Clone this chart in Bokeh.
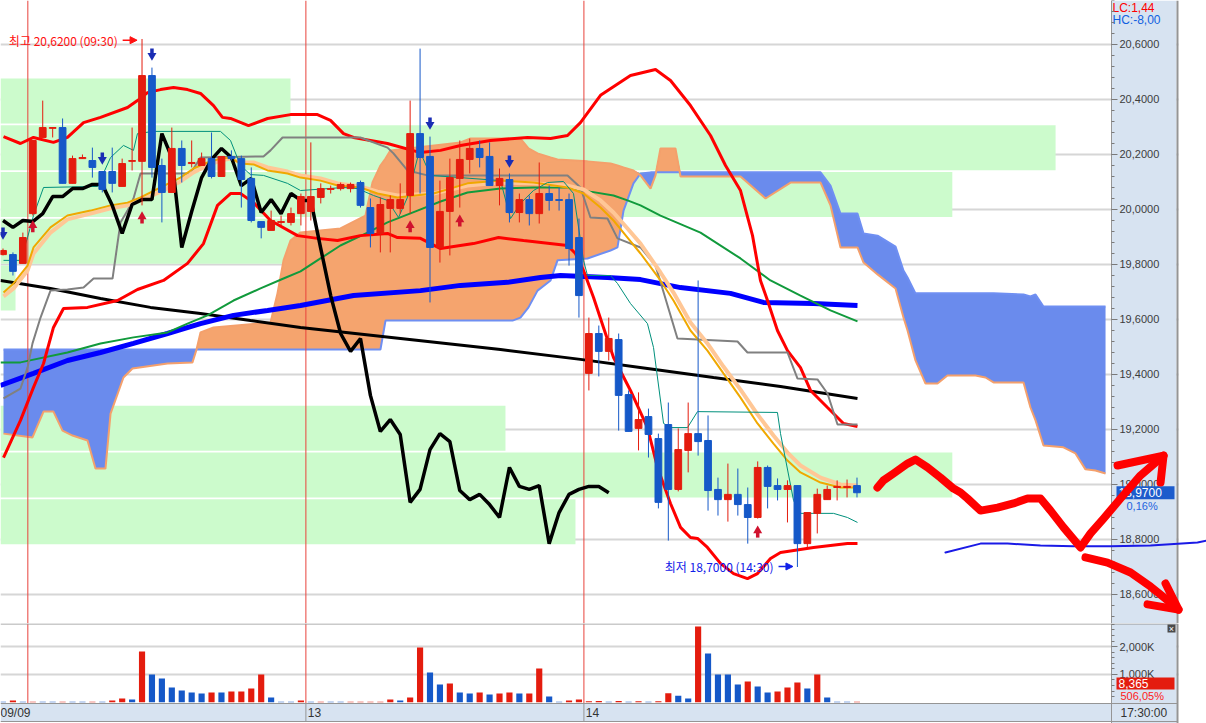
import numpy as np
from bokeh.plotting import figure
from bokeh.layouts import column
from bokeh.models import Range1d, FixedTicker, CustomJSTickFormatter, Arrow, NormalHead
from bokeh.core.properties import value
from bokeh.embed import file_html
from bokeh.resources import INLINE

# ---------------- 30-minute bars (index 0 = first bar of 09/09, 28 bars per session) ----------------
bar_idx = list(range(-3, 84))
open_ = [19.836, 19.836, 19.804, 19.985, 20.262, 20.295, 20.298, 20.095, 20.185, 20.178,
         20.138, 20.138, 20.084, 20.175, 20.175, 20.487, 20.160, 20.062, 20.222, 20.167,
         20.160, 20.185, 20.120, 20.193, 20.185, 20.113, 19.956, 19.924, 19.953, 19.953,
         19.985, 19.993, 20.044, 20.073, 20.076, 20.076, 20.098, 20.007, 19.913, 20.004,
         20.004, 20.051, 20.276, 20.193, 19.862, 19.993, 20.113, 20.182, 20.222, 20.193,
         20.087, 20.109, 19.989, 20.036, 19.985, 20.058, 20.036, 20.036, 19.898, 19.404,
         19.549, 19.484, 19.527, 19.327, 19.204, 19.247, 19.167, 19.218, 18.982, 19.124,
         19.185, 19.160, 18.982, 18.945, 18.964, 18.927, 18.880, 19.062, 18.996, 18.982,
         18.996, 18.785, 18.895, 18.945, 18.989, 18.989, 18.996]
high = [19.858, 19.844, 19.916, 20.251, 20.396, 20.298, 20.331, 20.196, 20.200, 20.225,
        20.138, 20.225, 20.185, 20.298, 20.620, 20.516, 20.185, 20.298, 20.251, 20.251,
        20.207, 20.280, 20.193, 20.215, 20.196, 20.153, 19.956, 19.996, 19.978, 20.007,
        20.058, 20.244, 20.095, 20.087, 20.098, 20.098, 20.105, 20.040, 20.044, 20.051,
        20.095, 20.396, 20.585, 20.265, 20.105, 20.185, 20.251, 20.258, 20.251, 20.244,
        20.149, 20.131, 20.058, 20.051, 20.171, 20.087, 20.080, 20.058, 19.967, 19.607,
        19.578, 19.607, 19.549, 19.342, 19.335, 19.276, 19.185, 19.298, 19.204, 19.298,
        19.742, 19.251, 19.025, 19.076, 19.058, 18.989, 19.084, 19.069, 19.022, 19.015,
        18.996, 18.898, 18.985, 18.996, 19.015, 19.018, 19.025]
low = [19.833, 19.760, 19.804, 19.978, 20.262, 20.262, 20.095, 20.095, 20.185, 20.116,
       20.062, 20.062, 20.084, 20.142, 20.015, 20.116, 19.953, 20.062, 20.098, 20.153,
       20.160, 20.113, 20.120, 20.178, 20.007, 19.953, 19.895, 19.924, 19.942, 19.942,
       19.942, 19.960, 20.022, 20.058, 20.069, 20.062, 20.007, 19.862, 19.844, 19.844,
       19.985, 19.985, 20.058, 19.662, 19.807, 19.833, 20.007, 20.131, 20.153, 20.087,
       20.015, 19.953, 19.953, 19.942, 19.949, 19.996, 19.996, 19.796, 19.607, 19.342,
       19.393, 19.451, 19.196, 19.193, 19.124, 19.098, 18.913, 18.796, 18.975, 19.044,
       19.105, 18.905, 18.887, 18.865, 18.887, 18.785, 18.876, 18.913, 18.942, 18.862,
       18.700, 18.771, 18.822, 18.945, 18.942, 18.953, 18.953]
close = [19.851, 19.775, 19.898, 20.251, 20.298, 20.298, 20.095, 20.185, 20.189, 20.153,
         20.073, 20.095, 20.167, 20.178, 20.487, 20.153, 20.062, 20.222, 20.160, 20.171,
         20.185, 20.120, 20.193, 20.185, 20.109, 19.960, 19.935, 19.960, 19.956, 19.985,
         20.047, 20.047, 20.076, 20.076, 20.091, 20.091, 20.015, 19.913, 20.018, 20.036,
         20.036, 20.276, 20.189, 19.862, 19.993, 20.116, 20.182, 20.222, 20.189, 20.087,
         20.113, 19.989, 20.036, 19.985, 20.058, 20.033, 20.033, 19.858, 19.687, 19.549,
         19.484, 19.531, 19.324, 19.193, 19.236, 19.182, 18.935, 18.982, 19.127, 19.185,
         19.156, 18.978, 18.945, 18.964, 18.927, 18.880, 19.062, 18.993, 18.982, 18.996,
         18.785, 18.898, 18.964, 18.982, 18.993, 18.993, 18.970]
volume_k = [20, 60, 20, 20, 20, 20, 20, 20, 20, 20,
            20, 60, 130, 100, 1824, 996, 852, 528, 420, 348,
            312, 348, 348, 384, 384, 492, 996, 168, 20, 20,
            60, 20, 20, 20, 20, 20, 20, 20, 20, 100,
            60, 168, 1968, 1068, 636, 672, 348, 312, 348, 276,
            312, 348, 312, 312, 1212, 204, 20, 60, 100, 30,
            40, 20, 40, 20, 30, 20, 30, 324, 228, 132,
            2724, 1752, 996, 996, 636, 744, 564, 348, 384, 528,
            708, 492, 996, 168, 20, 20, 20]
volume_side = ("b r b r b b r b b r  b r r b r b b b b b  b r b r r r r b b b  "
               "r b r b b r r r r r  b r r b b r b b r b  r r b r r b b r r r  "
               "r b r b r b r r b b  r b b b b r b b r r  r b r b b b r").split()
last_volume = "8,365"
volume_ratio = "506,05%"
price_change = "0,16%"
lc_hc = ["LC:1,44", "HC:-8,00"]
close_time = "17:30:00"

# ---------------- indicator lines (bar index, price) ----------------
bb_up_k = [-2.95, -1.24, 0.07, 2.08, 3.49, 5.11, 6.82, 9.54, 10.54, 11.55, 12.86, 14.17, 15.58, 16.89,
           18.20, 19.10, 19.91, 21.72, 23.64, 25.95, 28.67, 29.98, 31.29, 32.30, 35.72, 39.04, 41.06,
           43.07, 46.09, 49.82, 52.14, 53.85, 55.15, 57.17, 60.19, 62.71, 64.22, 66.23, 68.25, 69.76,
           71.27, 72.48, 73.28, 73.99, 74.99, 76.00, 77.31, 78.32, 80.03, 81.64, 83.05]
bb_up = [20.265, 20.240, 20.262, 20.244, 20.262, 20.316, 20.335, 20.371, 20.396, 20.425, 20.436, 20.444,
         20.436, 20.422, 20.378, 20.335, 20.331, 20.305, 20.331, 20.345, 20.345, 20.324, 20.276, 20.262,
         20.240, 20.207, 20.215, 20.233, 20.251, 20.262, 20.258, 20.269, 20.316, 20.415, 20.487, 20.509,
         20.469, 20.378, 20.269, 20.160, 20.069, 19.905, 19.742, 19.669, 19.560, 19.487, 19.425, 19.342,
         19.280, 19.222, 19.211]
bb_lo_k = [-2.95, -1.24, 0.07, 1.08, 2.08, 3.09, 5.51, 8.53, 10.54, 13.16, 15.58, 17.19, 18.60, 19.91,
           20.91, 22.23, 23.94, 26.66, 28.67, 30.69, 32.98, 35.72, 36.73, 39.04, 41.06, 44.38, 46.90,
           49.42, 53.85, 54.65, 55.46, 56.47, 57.47, 58.48, 60.19, 61.90, 62.91, 64.22, 65.23, 66.23,
           66.94, 67.94, 69.25, 70.57, 71.97, 72.98, 74.29, 75.30, 78.62, 82.04, 83.05]
bb_lo = [19.098, 19.233, 19.353, 19.440, 19.571, 19.640, 19.644, 19.669, 19.709, 19.742, 19.804, 19.876,
         20.015, 20.058, 20.058, 20.025, 19.960, 19.905, 19.895, 19.887, 19.905, 19.913, 19.898, 19.895,
         19.858, 19.876, 19.898, 19.887, 19.869, 19.840, 19.778, 19.680, 19.571, 19.462, 19.342, 19.207,
         19.062, 18.931, 18.844, 18.807, 18.804, 18.771, 18.713, 18.676, 18.658, 18.676, 18.731, 18.753,
         18.771, 18.785, 18.785]
ma_green_k = [-3.25, -1.24, 3.49, 6.82, 10.14, 13.57, 15.58, 17.59, 20.21, 22.93, 25.25, 26.96, 28.97,
              30.98, 33.71, 35.72, 38.74, 41.06, 43.78, 47.10, 50.42, 53.85, 56.16, 58.48, 59.89, 61.20,
              63.21, 67.24, 71.27, 74.29, 77.31, 80.33, 83.05]
ma_green = [19.444, 19.444, 19.480, 19.513, 19.535, 19.553, 19.585, 19.615, 19.669, 19.713, 19.749,
            19.775, 19.822, 19.869, 19.916, 19.953, 19.996, 20.029, 20.062, 20.076, 20.080, 20.080,
            20.065, 20.051, 20.033, 20.015, 19.978, 19.916, 19.822, 19.742, 19.687, 19.633, 19.593]
ma_blue_k = [-3.25, 0.07, 3.49, 6.82, 10.14, 13.57, 16.89, 20.21, 23.64, 26.96, 32.30, 39.04, 43.07,
             47.80, 51.13, 53.14, 57.87, 61.20, 65.23, 70.26, 73.58, 78.62, 83.05]
ma_blue = [19.360, 19.404, 19.451, 19.480, 19.513, 19.549, 19.585, 19.615, 19.633, 19.651, 19.687,
           19.705, 19.724, 19.735, 19.753, 19.760, 19.753, 19.745, 19.716, 19.695, 19.662, 19.658, 19.651]
ma_black_k = [-3.25, 1.78, 6.82, 11.85, 16.89, 21.92, 26.96, 37.03, 47.10, 55.15, 61.90, 68.55, 75.30, 83.05]
ma_black = [19.742, 19.713, 19.676, 19.644, 19.622, 19.596, 19.571, 19.531, 19.491, 19.455, 19.422,
            19.389, 19.356, 19.313]
tenkan_k = [-2.95, -1.24, -0.53, 0.07, 1.08, 6.52, 7.83, 9.13, 10.14, 10.54, 12.16, 18.90, 19.91, 20.91,
            21.92, 23.23, 25.65, 26.96, 31.29, 32.70, 34.31, 35.72, 36.83, 37.73, 38.94, 40.05, 47.10,
            48.11, 49.11, 50.42, 51.83, 53.44, 54.45, 55.46, 55.86, 58.18, 58.88, 60.19, 61.90, 62.51,
            63.52, 64.22, 65.93, 66.94, 74.99, 75.30, 76.61, 77.31, 80.64, 82.04, 83.05]
tenkan = [19.815, 19.815, 19.898, 19.978, 20.080, 20.084, 20.189, 20.233, 20.215, 20.276, 20.284, 20.284,
          20.251, 20.160, 20.127, 20.124, 20.095, 20.069, 20.080, 20.076, 20.051, 20.033, 19.971, 20.044,
          20.215, 20.124, 20.105, 19.967, 20.022, 20.069, 20.098, 20.102, 20.058, 19.815, 19.760, 19.760,
          19.731, 19.658, 19.585, 19.498, 19.222, 19.207, 19.207, 19.265, 19.262, 19.185, 18.942, 18.895,
          18.895, 18.880, 18.862]
kijun_k = [-2.95, -1.24, -0.53, -0.03, 0.78, 1.78, 3.49, 5.11, 6.12, 8.03, 8.83, 9.54, 10.14, 10.85,
           15.88, 16.89, 23.23, 23.94, 25.15, 32.98, 35.72, 36.32, 37.73, 39.75, 53.85, 55.15, 56.16,
           57.87, 58.88, 61.20, 62.71, 63.41, 64.92, 70.97, 71.97, 76.00, 77.01, 79.02, 80.03, 81.04, 83.05]
kijun = [19.313, 19.349, 19.425, 19.513, 19.607, 19.705, 19.709, 19.716, 19.749, 19.749, 19.953, 19.996,
         20.040, 20.131, 20.131, 20.189, 20.193, 20.215, 20.262, 20.262, 20.225, 20.204, 20.142, 20.124,
         20.124, 20.080, 19.971, 19.967, 19.895, 19.862, 19.796, 19.713, 19.531, 19.520, 19.480, 19.480,
         19.385, 19.382, 19.331, 19.218, 19.218]
ma_fast_k = [-2.95, -1.94, -0.53, 0.07, 1.78, 3.49, 5.81, 7.83, 9.54, 10.85, 12.86, 14.87, 16.18, 17.59,
             18.90, 19.91, 20.91, 22.23, 23.64, 25.65, 26.96, 28.97, 30.69, 32.98, 34.71, 36.73, 40.35,
             43.78, 47.10, 50.42, 53.85, 55.46, 57.17, 58.48, 59.89, 61.20, 63.21, 64.52, 66.23, 67.94,
             69.55, 71.27, 72.98, 74.59, 76.00, 77.31, 79.33, 81.34, 83.05]
ma_fast = [19.698, 19.731, 19.796, 19.862, 19.935, 19.978, 19.996, 20.015, 20.025, 20.044, 20.080, 20.116,
           20.149, 20.171, 20.185, 20.189, 20.167, 20.164, 20.142, 20.131, 20.116, 20.105, 20.087, 20.080,
           20.058, 20.044, 20.058, 20.095, 20.105, 20.098, 20.080, 20.058, 20.007, 19.960, 19.898, 19.840,
           19.742, 19.669, 19.560, 19.487, 19.404, 19.316, 19.222, 19.149, 19.087, 19.044, 19.007, 18.989,
           18.989]
ma_slow = [19.684, 19.713, 19.778, 19.840, 19.916, 19.964, 19.985, 20.004, 20.015, 20.033, 20.065, 20.102,
           20.135, 20.160, 20.178, 20.185, 20.171, 20.171, 20.153, 20.138, 20.124, 20.113, 20.095, 20.084,
           20.065, 20.051, 20.058, 20.087, 20.098, 20.095, 20.087, 20.073, 20.033, 19.989, 19.931, 19.876,
           19.771, 19.698, 19.589, 19.513, 19.429, 19.345, 19.255, 19.178, 19.116, 19.069, 19.025, 19.000,
           18.996]

# ---------------- Ichimoku cloud (leading spans A and B) ----------------
cloud_k = [-2.95, -0.03, 1.08, 2.08, 2.99, 4.00, 5.51, 6.31, 7.32, 7.83, 9.13, 10.04, 13.57, 16.08, 16.49,
           16.89, 18.20, 23.94, 24.64, 25.25, 25.95, 26.95, 30.98, 33.50, 34.21, 35.01, 35.52, 36.02,
           43.07, 44.08, 48.31, 49.11, 49.92, 50.83, 52.14, 52.84, 55.86, 58.18, 58.88, 59.49, 60.49,
           61.20, 62.21, 62.71, 63.21, 64.72, 65.23, 71.27, 73.79, 76.31, 79.33, 80.33, 81.34, 83.05,
           83.66, 85.07, 86.88, 87.68, 88.09, 88.89, 89.90, 91.11, 92.11, 94.93, 95.94, 96.75, 99.77,
           100.47, 100.98, 101.78, 103.79, 105.00, 106.01, 107.01, 108.03]
span_a = [19.185, 19.171, 19.265, 19.265, 19.196, 19.178, 19.160, 19.058, 19.058, 19.258,
          19.389, 19.422, 19.440, 19.444, 19.491, 19.553, 19.571, 19.589, 19.695, 19.815,
          19.887, 19.916, 19.931, 19.978, 20.098, 20.160, 20.185, 20.215, 20.244, 20.258,
          20.258, 20.258, 20.222, 20.204, 20.189, 20.182, 20.175, 20.167, 20.160, 20.153,
          20.142, 20.124, 20.076, 20.124, 20.222, 20.222, 20.120, 20.120, 20.040, 20.098,
          20.098, 20.015, 19.862, 19.862, 19.807, 19.764, 19.713, 19.607, 19.560, 19.451,
          19.367, 19.367, 19.396, 19.396, 19.389, 19.371, 19.371, 19.280, 19.233, 19.142,
          19.135, 19.113, 19.055, 19.051, 19.040]
span_b = [19.491, 19.491, 19.491, 19.491, 19.491, 19.491, 19.491, 19.491, 19.491, 19.491,
          19.491, 19.491, 19.491, 19.491, 19.491, 19.491, 19.491, 19.491, 19.491, 19.491,
          19.491, 19.491, 19.491, 19.491, 19.491, 19.491, 19.596, 19.596, 19.596, 19.596,
          19.596, 19.607, 19.644, 19.705, 19.742, 19.815, 19.822, 19.851, 19.862, 19.996,
          20.095, 20.131, 20.135, 20.135, 20.135, 20.135, 20.135, 20.135, 20.135, 20.135,
          20.135, 20.087, 19.985, 19.985, 19.913, 19.905, 19.865, 19.778, 19.753, 19.695,
          19.695, 19.695, 19.695, 19.695, 19.695, 19.695, 19.691, 19.684, 19.691, 19.647,
          19.647, 19.647, 19.647, 19.647, 19.647]

# ---------------- volume-at-price zones (top price of zone, bar index where it ends) ----------------
zone_top = [20.476, 20.306, 20.136, 19.966, 19.796, 19.286, 19.116, 18.946]
zone_end = [25.95, 103.0, 92.6, 26.96, -1.74, 47.6, 92.6, 54.65]
zone_height = 0.1636

# ---------------- trade signals ----------------
sell_k = [-3, 7, 12, 40, 48]
sell_at = [19.916, 20.189, 20.567, 20.316, 20.178]
buy_k = [0, 11, 38, 43, 73]
buy_at = [19.935, 19.967, 19.935, 19.956, 18.825]

# ---------------- hand-drawn outlook ----------------
pen_up_k = [85.06, 85.67, 86.68, 88.09, 88.89, 90.10, 91.41, 92.72, 93.42, 94.13, 95.44, 97.15, 98.76,
            100.17, 101.48, 102.49, 103.80, 105.51, 106.52, 107.83, 109.54, 111.55, 113.87]
pen_up_p = [18.989, 19.015, 19.040, 19.076, 19.091, 19.062, 19.025, 18.985, 18.971, 18.949, 18.905, 18.916,
            18.931, 18.949, 18.949, 18.905, 18.844, 18.771, 18.822, 18.876, 18.949, 19.033, 19.105]
pen_up_head_k = [109.24, 113.87, 113.57]
pen_up_head_p = [19.069, 19.105, 19.007]
pen_dn_k = [106.01, 108.23, 110.55, 112.56, 114.07, 115.38]
pen_dn_p = [18.735, 18.716, 18.680, 18.629, 18.585, 18.545]
pen_dn_head_k = [112.26, 115.38, 114.07]
pen_dn_head_p = [18.564, 18.545, 18.640]
pen_blue_k = [91.91, 95.44, 98.16, 101.48, 104.80, 108.53, 112.56, 117.29, 118.2]
pen_blue_p = [18.753, 18.785, 18.785, 18.778, 18.775, 18.775, 18.778, 18.789, 18.796]

day_breaks = [-0.5, 27.5, 55.5]
date_tick_k = [-1.79, 28.37, 56.36]
date_labels = ["09/09", "13", "14"]
price_ticks = [18.6, 18.8, 19.0, 19.2, 19.4, 19.6, 19.8, 20.0, 20.2, 20.4, 20.6]

# ---------------- styling / geometry ----------------
RED = "#e41c0e"
BLUE = "#1558c8"
PANEL = "#d7e3f1"
AXIS_GREY = "#959595"
DAY_RED = "#e8423c"
TICK_FONT = "Liberation Sans"
KR_FONT = "Noto Sans CJK KR"

W = 1206
MAIN_H = 623
VOL_H = 100
X0, STEP = 32.3, 9.93          # screen column of bar 0 and bar spacing


def col(px):
    """Screen column -> bar-index coordinate (used for the scale panel decoration)."""
    return (px - X0) / STEP


SCALE_L, SCALE_R, EDGE = col(1111), col(1176), col(1178)

k = np.array(bar_idx, dtype=float)
o = np.array(open_)
h = np.array(high)
lo = np.array(low)
c = np.array(close)
bar_col = np.where(c >= o, RED, BLUE).tolist()
vol_col = [RED if s == "r" else BLUE for s in volume_side]

xr = Range1d(col(0), col(W))
yr = Range1d(18.4945, 20.76)
ppx = (yr.end - yr.start) / MAIN_H  # price per screen pixel

p = figure(width=W, height=MAIN_H, x_range=xr, y_range=yr, output_backend="svg",
           toolbar_location=None, x_axis_location=None, y_axis_location="right",
           min_border=0, min_border_left=0, min_border_right=0, min_border_top=0, min_border_bottom=0,
           border_fill_color="white", background_fill_color="white", outline_line_color=None)

minor_price = [round(18.52 + 0.04 * i, 2) for i in range(57)]
ay = p.yaxis[0]
ay.fixed_location = SCALE_L
ay.ticker = FixedTicker(ticks=price_ticks, minor_ticks=minor_price)
ay.formatter = CustomJSTickFormatter(code="return tick.toFixed(4).replace('.', ',');")
ay.axis_line_color = AXIS_GREY
ay.major_tick_line_color = "#7a7a7a"
ay.minor_tick_line_color = "#7a7a7a"
ay.major_tick_out = 6
ay.major_tick_in = 0
ay.minor_tick_out = 3
ay.minor_tick_in = 0
ay.major_label_standoff = 2
ay.major_label_text_font = TICK_FONT
ay.major_label_text_font_size = "11px"
ay.major_label_text_color = "#3c3c3c"
p.xgrid.visible = False
p.ygrid.grid_line_color = "#d6d6d6"
p.ygrid.grid_line_width = 2

# volume-at-price zones
zt = np.array(zone_top)
p.quad(left=xr.start, right=zone_end, top=zt, bottom=zt - zone_height,
       fill_color="#ccfbcc", line_color=None)

# cloud
ck = np.array(cloud_k)
sa = np.array(span_a)
sb = np.array(span_b)
upper = np.maximum(sa, sb)
p.varea(x=ck, y1=sb, y2=upper, fill_color="#f5a46e")
p.varea(x=ck, y1=sa, y2=upper, fill_color="#6a8bed")
p.line(ck, sb, line_color="#6f8ff2", line_width=2)
p.line(ck, sa, line_color="#f4a06c", line_width=2)

# session separators
p.segment(x0=day_breaks, y0=yr.start, x1=day_breaks, y1=yr.end, line_color=DAY_RED, line_width=1)

# moving averages, Bollinger bands, Ichimoku lines
p.line(ma_black_k, ma_black, line_color="black", line_width=3)
p.line(ma_blue_k, ma_blue, line_color="#0000ff", line_width=5)
p.line(ma_green_k, ma_green, line_color="#119a3c", line_width=2)
p.line(bb_up_k, bb_up, line_color="#ff0000", line_width=3)
p.line(bb_lo_k, bb_lo, line_color="#ff0000", line_width=3)
p.line(kijun_k, kijun, line_color="#808080", line_width=2)
p.line(ma_fast_k, ma_slow, line_color="#ffc796", line_width=4)
p.line(ma_fast_k, ma_fast, line_color="#f0a800", line_width=2)
p.line(tenkan_k, tenkan, line_color="#00907c", line_width=1)

# lagging span: closes shifted back
LAG = 25
sel = k >= k[0] + LAG
p.line(k[sel] - LAG, c[sel], line_color="black", line_width=3.5)

# candles
p.segment(x0=k, y0=h, x1=k, y1=lo, line_color=bar_col, line_width=1)
p.vbar(x=k, width=0.68, top=np.maximum(o, c), bottom=np.minimum(o, c),
       fill_color=bar_col, line_color=bar_col, line_width=1)

# signal arrows
sk = np.array(sell_k, dtype=float)
sp = np.array(sell_at)
p.rect(x=sk, y=sp + 2.5 * ppx, width=3.5, height=5, width_units="screen", height_units="screen",
       fill_color="#1a2db4", line_color=None)
p.scatter(x=sk, y=sp - 2.0 * ppx, marker="inverted_triangle", size=9,
          fill_color="#1a2db4", line_color=None)
bk = np.array(buy_k, dtype=float)
bp = np.array(buy_at)
p.rect(x=bk, y=bp - 2.5 * ppx, width=3.5, height=5, width_units="screen", height_units="screen",
       fill_color="#d0122e", line_color=None)
p.scatter(x=bk, y=bp + 2.0 * ppx, marker="triangle", size=9,
          fill_color="#d0122e", line_color=None)

# high / low annotations
hi_i = int(np.argmax(h))
lo_i = int(np.argmin(lo))
hi_txt = "최고 " + f"{h[hi_i]:.4f}".replace(".", ",") + " (09:30)"
lo_txt = "최저 " + f"{lo[lo_i]:.4f}".replace(".", ",") + " (14:30)"
p.text(x=[k[hi_i] - 2.45], y=[h[hi_i] - 1.2 * ppx], text=[hi_txt], text_align="right",
       text_baseline="middle", text_color="#ff1010", text_font=value(KR_FONT), text_font_size="12px")
p.add_layout(Arrow(end=NormalHead(size=7, fill_color="#ff1010", line_color="#ff1010"),
                   x_start=k[hi_i] - 1.95, y_start=h[hi_i] - 1.2 * ppx,
                   x_end=k[hi_i] - 0.5, y_end=h[hi_i] - 1.2 * ppx,
                   line_color="#ff1010", line_width=1.5))
p.text(x=[k[lo_i] - 2.4], y=[lo[lo_i] + 0.5 * ppx], text=[lo_txt], text_align="right",
       text_baseline="middle", text_color="#1020e8", text_font=value(KR_FONT), text_font_size="12px")
p.add_layout(Arrow(end=NormalHead(size=7, fill_color="#1020e8", line_color="#1020e8"),
                   x_start=k[lo_i] - 1.9, y_start=lo[lo_i] + 0.5 * ppx,
                   x_end=k[lo_i] - 0.45, y_end=lo[lo_i] + 0.5 * ppx,
                   line_color="#1020e8", line_width=1.5))

# price-scale column
p.quad(left=SCALE_L, right=SCALE_R, bottom=yr.start, top=yr.end, fill_color=PANEL, line_color=None)
p.quad(left=EDGE, right=xr.end, bottom=yr.start, top=yr.end, fill_color="white", line_color=None)
p.segment(x0=[col(1177)], y0=[yr.start], x1=[col(1177)], y1=[yr.end], line_color=AXIS_GREY, line_width=2)
p.text(x=[col(1112)] * 2, y=[yr.end, yr.end - 12 * ppx], text=lc_hc, text_align="left",
       text_baseline="top", text_color=["#ff0000", "#1060e0"], text_font=value(TICK_FONT),
       text_font_size="12px")

# current price tag
p.quad(left=col(1116), right=col(1174), bottom=c[-1] - 6.5 * ppx, top=c[-1] + 6.5 * ppx,
       fill_color="#1d5ccc", line_color=None, level="overlay")
p.text(x=[col(1118)], y=[c[-1]], text=[f"{c[-1]:.4f}".replace(".", ",")], text_align="left",
       text_baseline="middle", text_color="white", text_font=value(TICK_FONT), text_font_size="12px",
       level="overlay")
p.text(x=[col(1126)], y=[c[-1] - 13 * ppx], text=[price_change], text_align="left",
       text_baseline="middle", text_color="#1e62e0", text_font=value(TICK_FONT), text_font_size="11px",
       level="overlay")


# hand-drawn outlook strokes
def pen(fig, xs, ys, color, width):
    fig.line(xs, ys, line_color=color, line_width=width, line_cap="round", line_join="round",
             level="overlay")


pen(p, pen_blue_k, pen_blue_p, "#1a1ae6", 2)
pen(p, pen_up_k, pen_up_p, "#ff0000", 8)
pen(p, pen_up_head_k, pen_up_head_p, "#ff0000", 8)
pen(p, pen_dn_k, pen_dn_p, "#ff0000", 8)
pen(p, pen_dn_head_k, pen_dn_head_p, "#ff0000", 8)

# ---------------- volume pane ----------------
VPX = 36.0                                 # thousand contracts per screen pixel
ZERO_ROW = 701.7                           # screen row of the zero-volume line


def vrow(py):
    """Screen row -> volume coordinate (used for the scale panel decoration)."""
    return (ZERO_ROW - py) * VPX


vr = Range1d(vrow(723), vrow(623))
strip_top = vrow(703)                      # date strip under the bars
strip_bot = vrow(721)

pv = figure(width=W, height=VOL_H, x_range=xr, y_range=vr, output_backend="svg",
            toolbar_location=None, y_axis_location="right", x_axis_location="below",
            min_border=0, min_border_left=0, min_border_right=0, min_border_top=0, min_border_bottom=0,
            border_fill_color="white", background_fill_color="white", outline_line_color=None)
pv.xgrid.visible = False
pv.ygrid.grid_line_color = "#d6d6d6"
pv.ygrid.grid_line_width = 2

pv.vbar(x=k, top=volume_k, bottom=0, width=0.62, fill_color=vol_col, line_color=None)
pv.segment(x0=day_breaks, y0=strip_top, x1=day_breaks, y1=vr.end, line_color=DAY_RED, line_width=1)

# date strip and scale column
pv.quad(left=xr.start, right=SCALE_R, bottom=strip_bot, top=strip_top, fill_color=PANEL, line_color=None)
pv.quad(left=SCALE_L, right=SCALE_R, bottom=vr.start, top=vr.end, fill_color=PANEL, line_color=None)
pv.quad(left=EDGE, right=xr.end, bottom=vr.start, top=vr.end, fill_color="white", line_color=None)
pv.segment(x0=day_breaks[1:], y0=strip_bot, x1=day_breaks[1:], y1=strip_top, line_color=AXIS_GREY, line_width=1)
pv.segment(x0=[xr.start, xr.start], y0=[vrow(623.5), strip_bot], x1=[col(1177), col(1177)],
           y1=[vrow(623.5), strip_bot], line_color=AXIS_GREY, line_width=1)
pv.segment(x0=[col(1177)], y0=[vr.start], x1=[col(1177)], y1=[vr.end], line_color=AXIS_GREY, line_width=2)

vy = pv.yaxis[0]
vy.fixed_location = SCALE_L
vy.ticker = FixedTicker(ticks=[1000, 2000], minor_ticks=[v for v in range(200, 2900, 200) if v % 1000])
vy.major_label_overrides = {1000: "1,000K", 2000: "2,000K"}
vy.axis_line_color = AXIS_GREY
vy.major_tick_line_color = "#7a7a7a"
vy.minor_tick_line_color = "#7a7a7a"
vy.major_tick_out = 6
vy.major_tick_in = 0
vy.minor_tick_out = 3
vy.minor_tick_in = 0
vy.major_label_standoff = 2
vy.major_label_text_font = TICK_FONT
vy.major_label_text_font_size = "11px"
vy.major_label_text_color = "#3c3c3c"

vx = pv.xaxis[0]
vx.fixed_location = strip_top
vx.bounds = (xr.start, col(1177))
vx.ticker = FixedTicker(ticks=date_tick_k)
vx.major_label_overrides = dict(zip(date_tick_k, date_labels))
vx.axis_line_color = AXIS_GREY
vx.major_tick_line_color = None
vx.minor_tick_line_color = None
vx.major_tick_out = 0
vx.major_tick_in = 0
vx.major_label_standoff = 2
vx.major_label_text_font = TICK_FONT
vx.major_label_text_font_size = "12px"
vx.major_label_text_color = "#333333"

# last volume tag, ratio, pane button, session close time
pv.quad(left=col(1116), right=col(1174), bottom=vrow(689), top=vrow(677),
        fill_color="#e41c0e", line_color=None, level="overlay")
pv.text(x=[col(1118)], y=[vrow(683)], text=[last_volume], text_align="left",
        text_baseline="middle", text_color="white", text_font=value(TICK_FONT), text_font_size="12px",
        level="overlay")
pv.text(x=[col(1120)], y=[vrow(695)], text=[volume_ratio], text_align="left",
        text_baseline="middle", text_color="#ff1a1a", text_font=value(TICK_FONT), text_font_size="11px",
        level="overlay")
pv.quad(left=col(1167), right=col(1175), bottom=vrow(632), top=vrow(624),
        fill_color="#4a4a4a", line_color=None, level="overlay")
pv.text(x=[col(1171)], y=[vrow(628)], text=["×"], text_align="center",
        text_baseline="middle", text_color="white", text_font=value(TICK_FONT), text_font_size="9px",
        level="overlay")
pv.text(x=[col(1120)], y=[vrow(712)], text=[close_time], text_align="left",
        text_baseline="middle", text_color="#333333", text_font=value(TICK_FONT), text_font_size="12px")

layout = column(p, pv)
open("out.html", "w").write(file_html(layout, INLINE, title="intraday chart"))
